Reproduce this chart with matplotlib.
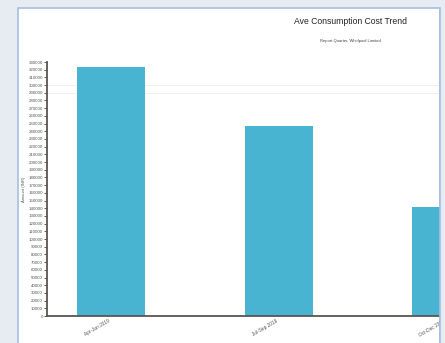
import matplotlib.pyplot as plt
import numpy as np
from matplotlib.patches import Rectangle

plt.rcParams['font.family'] = ['Liberation Sans', 'DejaVu Sans']

# quarters shown (labels are barely legible in the source, best guess)
quarters = ["Apr-Jun 2019", "Jul-Sep 2019", "Oct-Dec 2019"]
avg_cost = [324000, 247000, 141000]
y_ticks = list(range(0, 330001, 10000))

fig = plt.figure(figsize=(4.45, 3.43), dpi=100)
fig.patch.set_facecolor("#e7ecf3")

# white report panel
fig.patches.append(Rectangle((18 / 445, -0.1), (440 - 18) / 445, 1.1 - 8 / 343,
                             transform=fig.transFigure, facecolor="white",
                             edgecolor="#a8bfdf", linewidth=1.2, zorder=-1))

ax = fig.add_axes([47 / 445, 27 / 343, 423 / 445, 254 / 343])
ax.set_facecolor("none")
x = np.arange(len(quarters))
ax.bar(x, avg_cost, width=0.406, color="#49b4d2", zorder=2)

ax.set_xlim(-0.382, 2.143)
ax.set_ylim(0, 330000)
ax.set_yticks(y_ticks)
ax.set_yticklabels([str(v) for v in y_ticks], fontsize=3.2, color="#555555")
ax.set_xticks(x)
ax.set_xticklabels(quarters, rotation=30, ha="right", fontsize=3.4, color="#555555")
ax.tick_params(axis="y", length=2, width=0.6, pad=1, color="#444444")
ax.tick_params(axis="x", length=0, pad=2)

# faint guide lines
for y in [290000, 300000]:
    ax.axhline(y, color="#efefef", linewidth=0.6, zorder=1)

for s in ["top", "right"]:
    ax.spines[s].set_visible(False)
for s in ["left", "bottom"]:
    ax.spines[s].set_color("#5a5550")
    ax.spines[s].set_linewidth(1.3)

ax.set_ylabel("Amount (INR)", fontsize=3, color="#555555", labelpad=2)

fig.text(350 / 445, 1 - 22 / 343, "Ave Consumption Cost Trend", fontsize=6.2,
         ha="center", va="center", color="#222222")
fig.text(350 / 445, 1 - 41 / 343, "Report Quarter, Whirlpool Limited", fontsize=3,
         ha="center", va="center", color="#444444")

# right edge of the screenshot, covers the cut-off part of the chart
fig.patches.append(Rectangle((440 / 445, 0), 5 / 445, 1, transform=fig.transFigure,
                             facecolor="#e7ecf3", edgecolor="none", zorder=10))
fig.lines.append(plt.Line2D([440 / 445, 440 / 445], [0, 1 - 8 / 343], transform=fig.transFigure,
                            color="#a8bfdf", linewidth=1.2, zorder=11))

plt.savefig("out.png", dpi=100, facecolor=fig.get_facecolor())
